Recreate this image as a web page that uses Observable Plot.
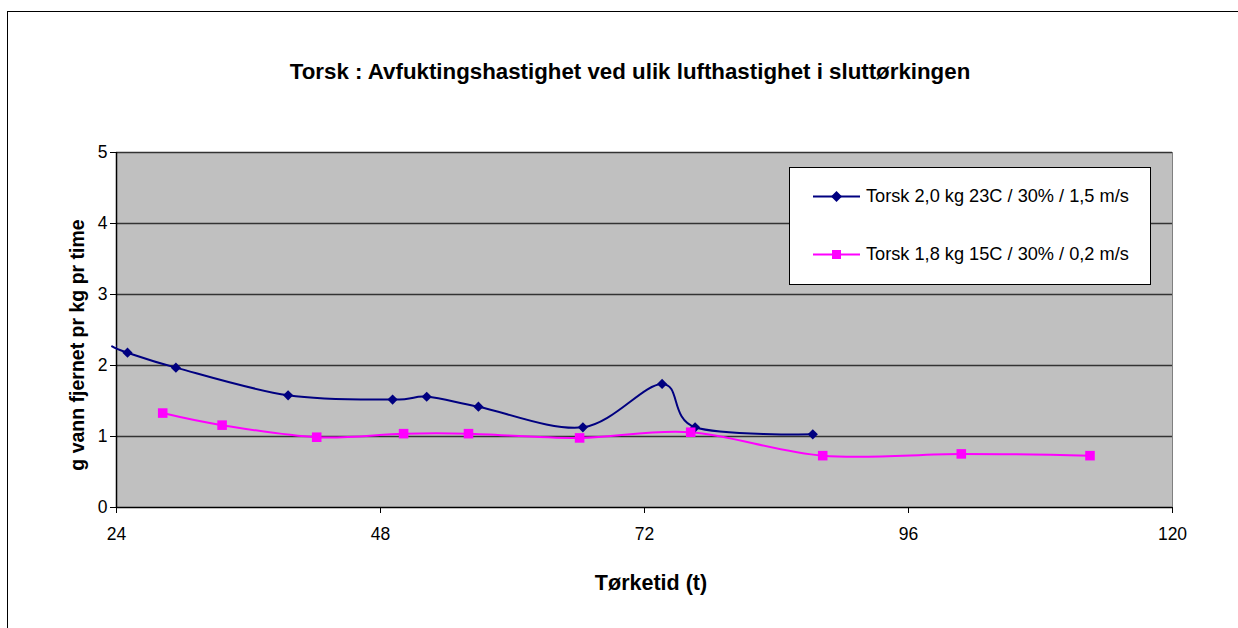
<!DOCTYPE html>
<html><head><meta charset="utf-8">
<script src="https://cdn.jsdelivr.net/npm/d3@7"></script>
<script src="https://cdn.jsdelivr.net/npm/@observablehq/plot@0.6"></script>
<style>
body{margin:0;background:#fff;font-family:"Liberation Sans",Arial,sans-serif;}
#wrap{position:relative;width:1238px;height:628px;overflow:hidden;background:#fff;}
#border{position:absolute;left:7px;top:11px;width:1300px;height:700px;border:1.5px solid #000;box-sizing:border-box;}
#chart{position:absolute;left:0;top:0;}
#title{position:absolute;left:0;width:1260px;top:72px;transform:translateY(-50%);text-align:center;font-weight:bold;font-size:22.3px;white-space:nowrap;}
#ytitle{position:absolute;left:77px;top:345px;transform:translate(-50%,-50%) rotate(-90deg);white-space:nowrap;font-weight:bold;font-size:19.5px;}
#xtitle{position:absolute;left:651px;top:583px;transform:translate(-50%,-50%);white-space:nowrap;font-weight:bold;font-size:21.5px;}
#legend{position:absolute;left:789px;top:167px;width:362px;height:118px;background:#fff;border:1px solid #000;box-sizing:border-box;font-size:18.2px;}
.item{position:absolute;left:23px;display:flex;align-items:center;line-height:21px;}
.item svg{margin-right:6px;}
</style></head>
<body>
<div id="wrap">
  <div id="border"></div>
  <div id="chart"></div>
  <div id="title"></div>
  <div id="ytitle"></div>
  <div id="xtitle"></div>
  <div id="legend"></div>
</div>
<script>
const titleText = "Torsk : Avfuktingshastighet ved ulik lufthastighet i sluttørkingen";
const xTitle = "Tørketid (t)";
const yTitle = "g vann fjernet pr kg pr time";
const xTicks = [24, 48, 72, 96, 120];
const yTicks = [0, 1, 2, 3, 4, 5];
const seriesNames = ["Torsk 2,0 kg 23C / 30% / 1,5 m/s", "Torsk 1,8 kg 15C / 30% / 0,2 m/s"];
const seriesColors = ["#000080", "#ff00ff"];

// Series 1 (blue, diamonds)
const blueT = [23.6, 25.0, 29.4, 39.6, 49.1, 52.2, 56.9, 66.4, 73.6, 76.6, 87.3];
const blueV = [2.27, 2.18, 1.97, 1.58, 1.52, 1.56, 1.42, 1.13, 1.74, 1.13, 1.03];
// Series 2 (magenta, squares)
const pinkT = [28.2, 33.6, 42.2, 50.1, 56.0, 66.1, 76.2, 88.2, 100.8, 112.5];
const pinkV = [1.33, 1.16, 0.99, 1.04, 1.04, 0.98, 1.06, 0.73, 0.755, 0.73];

const blue = blueT.map((t, i) => ({t, v: blueV[i]}));
const pink = pinkT.map((t, i) => ({t, v: pinkV[i]}));

document.getElementById("title").textContent = titleText;
document.getElementById("xtitle").textContent = xTitle;
document.getElementById("ytitle").textContent = yTitle;

const chart = Plot.plot({
  width: 1238, height: 628,
  marginLeft: 116, marginRight: 66, marginTop: 152, marginBottom: 121,
  style: {background: "transparent", fontFamily: "'Liberation Sans', Arial, sans-serif", fontSize: "17.5px", color: "#000"},
  x: {domain: [24, 120], ticks: xTicks, label: null},
  y: {domain: [0, 5], ticks: yTicks, label: null},
  marks: [
    Plot.frame({fill: "#c0c0c0", stroke: "#808080"}),
    Plot.gridY(yTicks.filter(d => d > 0), {stroke: "#333", strokeOpacity: 1, strokeWidth: 1.3}),
    Plot.ruleY([0], {stroke: "#000", strokeWidth: 1.5}),
    Plot.ruleX([24], {stroke: "#000", strokeWidth: 1.5}),
    Plot.axisX({ticks: xTicks, tickSize: 6, tickPadding: 14, label: null, stroke: "#000", tickFormat: d => String(d), fontSize: 17.5}),
    Plot.axisY({ticks: yTicks, tickSize: 6, tickPadding: 3, label: null, stroke: "#000", tickFormat: d => String(d), fontSize: 17.5}),
    Plot.line(blue, {x: "t", y: "v", curve: "cardinal", stroke: seriesColors[0], strokeWidth: 2}),
    Plot.line(pink, {x: "t", y: "v", curve: "cardinal", stroke: seriesColors[1], strokeWidth: 2}),
    Plot.dot(blue, {x: "t", y: "v", symbol: "diamond2", r: 4.6, fill: seriesColors[0], stroke: "none", clip: true}),
    Plot.dot(pink, {x: "t", y: "v", symbol: "square", r: 5.4, fill: seriesColors[1], stroke: "none", clip: true})
  ]
});
document.getElementById("chart").appendChild(chart);

// Legend
const legend = document.getElementById("legend");
const symbols = [
  '<polygon points="23.5,1 29,6.5 23.5,12 18,6.5" fill="#000080"/>',
  '<rect x="19" y="2" width="9" height="9" fill="#ff00ff"/>'
];
const tops = [18, 76];
seriesNames.forEach((name, i) => {
  const div = document.createElement("div");
  div.className = "item";
  div.style.top = tops[i] + "px";
  div.innerHTML = `<svg width="47" height="13"><line x1="0" y1="6.5" x2="47" y2="6.5" stroke="${seriesColors[i]}" stroke-width="2"/>${symbols[i]}</svg><span>${name}</span>`;
  legend.appendChild(div);
});
</script>
</body></html>
